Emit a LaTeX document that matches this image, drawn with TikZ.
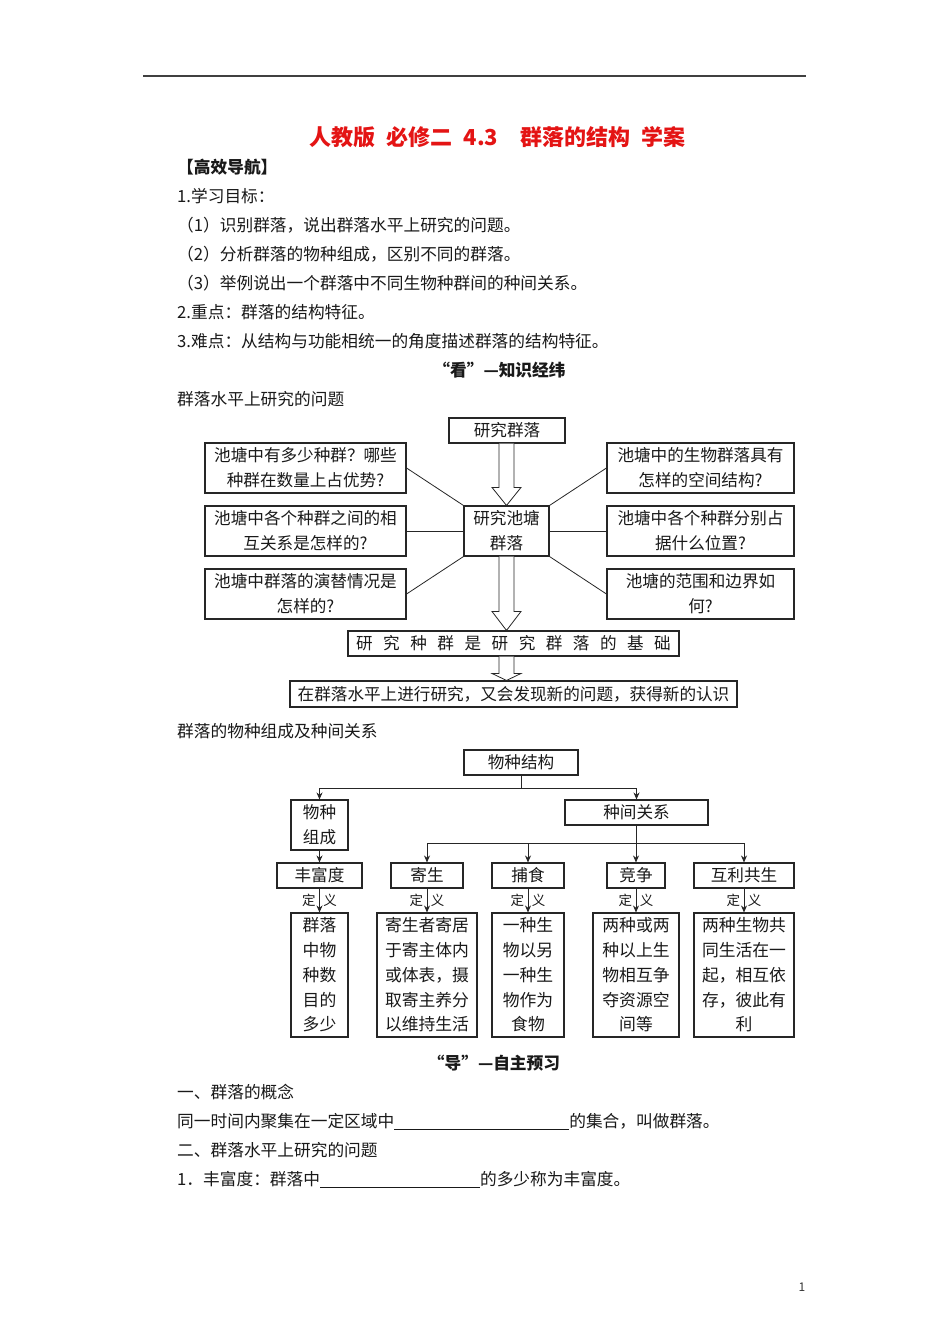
\documentclass[tikz,border=0pt]{standalone}
\usepackage{fontspec}
\setmainfont{Noto Sans CJK SC}
\usetikzlibrary{calc,arrows.meta}
\definecolor{titlered}{RGB}{228,20,20}
\newcommand\gapq{\hspace{10.5pt}}
\newcommand\holarr[3]{%
  \draw[ln,fill=white] ($(#1)+(-7.5,0)$) -- ($(#2)+(-7.5,-#3)$) -- ($(#2)+(-14.5,-#3)$) -- (#2)
    -- ($(#2)+(14.5,-#3)$) -- ($(#2)+(7.5,-#3)$) -- ($(#1)+(7.5,0)$);}
\begin{document}
\begin{tikzpicture}[x=1pt,y=-1pt,
  txt/.style={anchor=base west,inner sep=0,text=black!90,font=\fontsize{16.7}{20}\selectfont},
  ctxt/.style={anchor=center,inner sep=0,text=black!90,font=\fontsize{16.7}{20}\selectfont\bfseries},
  bx/.style={draw=black!85,line width=1.1pt,inner sep=0,align=center,text=black!90,font=\fontsize{16.6}{25}\selectfont},
  dbx/.style={bx,font=\fontsize{16.8}{24.75}\selectfont},
  ln/.style={draw=black!85,line width=0.8pt},
  arr/.style={ln,-{Stealth[length=7pt,width=6pt]}},
  deflab/.style={inner sep=3.5pt,font=\fontsize{13.5}{15}\selectfont,text=black!90},
]
\useasboundingbox[fill=white] (0,0) rectangle (950,1344);
\draw[line width=1.8pt,black!75] (143,76) -- (806,76);

% ---- header texts
\node[inner sep=0,font=\fontsize{22}{26}\selectfont\bfseries,text=titlered] (title) at (497.5,137)
  {人教版\hspace{0.5em}必修二\hspace{0.5em}4.3\hspace{1em}群落的结构\hspace{0.5em}学案};
\node[txt,font=\fontsize{16.7}{20}\selectfont\bfseries] (h1) at (177,173.3) {【高效导航】};
\node[txt] (l1) at (177,202.3) {1.学习目标：};
\node[txt] (l2) at (177,231.3) {（1）识别群落，说出群落水平上研究的问题。};
\node[txt] (l3) at (177,260.3) {（2）分析群落的物种组成，区别不同的群落。};
\node[txt] (l4) at (177,289.3) {（3）举例说出一个群落中不同生物种群间的种间关系。};
\node[txt] (l5) at (177,318.3) {2.重点：群落的结构特征。};
\node[txt] (l6) at (177,347.3) {3.难点：从结构与功能相统一的角度描述群落的结构特征。};
\node[ctxt] (kan) at (499.5,370) {“看”—知识经纬};
\node[txt] (s1) at (177,405.3) {群落水平上研究的问题};

% ---- diagram 1
\node[bx,minimum width=116,minimum height=25] (yjql) at (507,430.5) {研究群落};
\node[bx,minimum width=85,minimum height=50] (ctr) at (506.5,531) {研究池塘\\群落};
\node[bx,minimum width=201,minimum height=50] (L1) at (305.5,468) {池塘中有多少种群？哪些\\种群在数量上占优势?};
\node[bx,minimum width=201,minimum height=50] (L2) at (305.5,531) {池塘中各个种群之间的相\\互关系是怎样的?};
\node[bx,minimum width=201,minimum height=50] (L3) at (305.5,594) {池塘中群落的演替情况是\\怎样的?};
\node[bx,minimum width=187,minimum height=50] (R1) at (700.5,468) {池塘中的生物群落具有\\怎样的空间结构?};
\node[bx,minimum width=187,minimum height=50] (R2) at (700.5,531) {池塘中各个种群分别占\\据什么位置?};
\node[bx,minimum width=187,minimum height=50] (R3) at (700.5,594) {池塘的范围和边界如\\何?};
\node[bx,minimum width=331,minimum height=25] (base) at (513.5,643.5)
  {研\gapq 究\gapq 种\gapq 群\gapq 是\gapq 研\gapq 究\gapq 群\gapq 落\gapq 的\gapq 基\gapq 础};
\node[bx,minimum width=447,minimum height=26] (fin) at (513.5,694) {在群落水平上进行研究，又会发现新的问题，获得新的认识};

\draw[ln] (L1.east) -- (ctr.north west);
\draw[ln] (L2.east) -- (ctr.west);
\draw[ln] (L3.east) -- (ctr.south west);
\draw[ln] (R1.west) -- (ctr.north east);
\draw[ln] (R2.west) -- (ctr.east);
\draw[ln] (R3.west) -- (ctr.south east);

\coordinate (a1s) at (ctr.north |- yjql.south);
\holarr{a1s}{ctr.north}{18}
\coordinate (a2t) at (ctr.south |- base.north);
\holarr{ctr.south}{a2t}{19}
\coordinate (a3s) at (ctr.south |- base.south);
\coordinate (a3t) at (ctr.south |- fin.north);
\holarr{a3s}{a3t}{7}

% ---- section 2 heading
\node[txt] (s2) at (177,737.3) {群落的物种组成及种间关系};

% ---- diagram 2
\node[bx,minimum width=114,minimum height=25] (wzjg) at (521,762.5) {物种结构};
\node[bx,minimum width=57,minimum height=50] (zc) at (319.5,825) {物种\\组成};
\node[bx,minimum width=143,minimum height=25] (gx) at (636.5,812.5) {种间关系};
\node[bx,minimum width=85,minimum height=25] (ffd) at (319.5,875.5) {丰富度};
\node[bx,minimum width=72,minimum height=25] (js) at (427,875.5) {寄生};
\node[bx,minimum width=72,minimum height=25] (bs) at (528,875.5) {捕食};
\node[bx,minimum width=58,minimum height=25] (jz) at (636,875.5) {竞争};
\node[bx,minimum width=100,minimum height=25] (hl) at (744,875.5) {互利共生};

\node[dbx,minimum width=57,minimum height=124] (d1) at (319.5,975) {群落\\中物\\种数\\目的\\多少};
\node[dbx,minimum width=100,minimum height=124] (d2) at (427,975) {寄生者寄居\\于寄主体内\\或体表，摄\\取寄主养分\\以维持生活};
\node[dbx,minimum width=72,minimum height=124] (d3) at (528,975) {一种生\\物以另\\一种生\\物作为\\食物};
\node[dbx,minimum width=86,minimum height=124] (d4) at (636,975) {两种或两\\种以上生\\物相互争\\夺资源空\\间等};
\node[dbx,minimum width=100,minimum height=124] (d5) at (744,975) {两种生物共\\同生活在一\\起，相互依\\存，彼此有\\利};

\coordinate (j1) at ($(wzjg.south)+(0,13)$);
\draw[ln] (wzjg.south) -- (j1);
\draw[arr] (j1) -| (zc.north);
\draw[arr] (j1) -| (gx.north);
\coordinate (j2) at ($(gx.south)+(0,18)$);
\draw[ln] (gx.south) -- (j2);
\draw[arr] (j2) -| (js.north);
\draw[arr] (j2) -| (bs.north);
\draw[arr] (j2) -| (jz.north);
\draw[arr] (j2) -| (hl.north);
\draw[arr] (zc.south) -- (ffd.north);

\draw[arr] (ffd.south) -- (d1.north) node[midway,left,deflab]{定} node[midway,right,deflab]{义};
\draw[arr] (js.south) -- (d2.north) node[midway,left,deflab]{定} node[midway,right,deflab]{义};
\draw[arr] (bs.south) -- (d3.north) node[midway,left,deflab]{定} node[midway,right,deflab]{义};
\draw[arr] (jz.south) -- (d4.north) node[midway,left,deflab]{定} node[midway,right,deflab]{义};
\draw[arr] (hl.south) -- (d5.north) node[midway,left,deflab]{定} node[midway,right,deflab]{义};

% ---- bottom texts
\node[ctxt] (dao) at (494,1063) {“导”—自主预习};
\node[txt] (b1) at (177,1098.3) {一、群落的概念};
\node[txt] (b2) at (177,1127.3) {同一时间内聚集在一定区域中\underline{\makebox[175pt]{}}的集合，叫做群落。};
\node[txt] (b3) at (177,1156.3) {二、群落水平上研究的问题};
\node[txt] (b4) at (177,1185.3) {1．丰富度：群落中\underline{\makebox[160pt]{}}的多少称为丰富度。};
\node[inner sep=0,font=\fontsize{12}{14}\selectfont,text=black!80] (pg) at (802,1287) {1};
\end{tikzpicture}
\end{document}
